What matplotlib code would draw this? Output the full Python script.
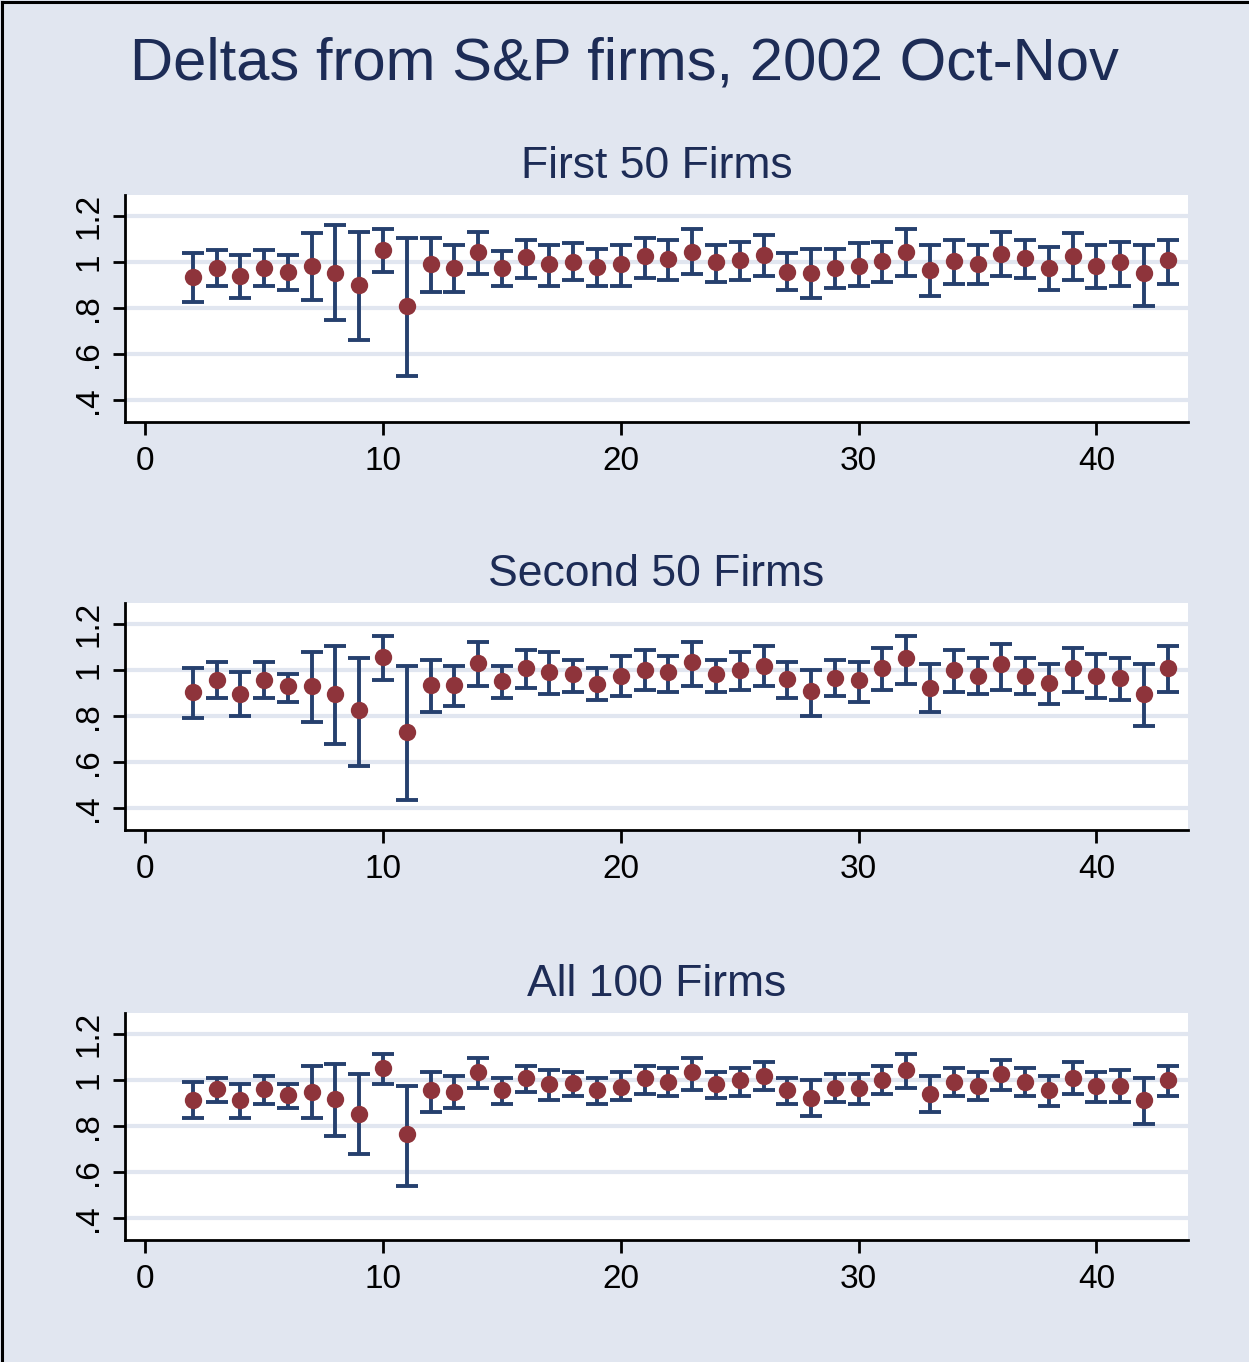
import matplotlib
matplotlib.use("Agg")
from matplotlib import pyplot as plt
from matplotlib.lines import Line2D

days = list(range(2, 44))

# First 50 firms
first_est = [0.933, 0.974, 0.939, 0.974, 0.956, 0.983, 0.952, 0.898, 1.052, 0.808,
             0.991, 0.974, 1.044, 0.974, 1.020, 0.991, 1.000, 0.978, 0.991, 1.026,
             1.012, 1.044, 1.000, 1.009, 1.029, 0.956, 0.949, 0.974, 0.983, 1.004,
             1.044, 0.964, 1.004, 0.990, 1.033, 1.017, 0.974, 1.026, 0.983, 1.000,
             0.949, 1.009]
first_hi = [1.036, 1.052, 1.028, 1.052, 1.028, 1.124, 1.159, 1.131, 1.141, 1.105,
            1.105, 1.071, 1.131, 1.045, 1.096, 1.071, 1.080, 1.054, 1.071, 1.105,
            1.096, 1.141, 1.071, 1.087, 1.115, 1.036, 1.054, 1.054, 1.080, 1.087,
            1.141, 1.071, 1.096, 1.071, 1.131, 1.096, 1.062, 1.124, 1.071, 1.087,
            1.071, 1.096]
first_lo = [0.825, 0.894, 0.843, 0.894, 0.876, 0.833, 0.745, 0.658, 0.956, 0.503,
            0.869, 0.869, 0.948, 0.894, 0.929, 0.894, 0.920, 0.894, 0.894, 0.929,
            0.920, 0.946, 0.911, 0.920, 0.937, 0.876, 0.843, 0.885, 0.894, 0.911,
            0.937, 0.850, 0.903, 0.903, 0.937, 0.929, 0.876, 0.920, 0.885, 0.894,
            0.808, 0.903]

# Second 50 firms
second_est = [0.904, 0.956, 0.895, 0.956, 0.930, 0.930, 0.895, 0.823, 1.055, 0.729,
              0.935, 0.935, 1.031, 0.949, 1.009, 0.991, 0.981, 0.939, 0.974, 1.000,
              0.991, 1.032, 0.983, 1.000, 1.017, 0.961, 0.908, 0.965, 0.956, 1.009,
              1.052, 0.921, 1.000, 0.974, 1.026, 0.974, 0.943, 1.009, 0.974, 0.965,
              0.895, 1.009]
second_hi = [1.009, 1.035, 0.991, 1.035, 0.983, 1.079, 1.105, 1.052, 1.148, 1.017,
             1.044, 1.017, 1.122, 1.017, 1.087, 1.079, 1.044, 1.009, 1.061, 1.087,
             1.061, 1.122, 1.044, 1.079, 1.105, 1.035, 1.000, 1.044, 1.035, 1.096,
             1.148, 1.026, 1.087, 1.052, 1.113, 1.052, 1.026, 1.096, 1.070, 1.052,
             1.026, 1.105]
second_lo = [0.791, 0.878, 0.800, 0.878, 0.860, 0.773, 0.677, 0.581, 0.956, 0.433,
             0.817, 0.843, 0.930, 0.878, 0.921, 0.895, 0.904, 0.869, 0.887, 0.913,
             0.904, 0.930, 0.904, 0.913, 0.930, 0.878, 0.800, 0.887, 0.860, 0.913,
             0.939, 0.817, 0.904, 0.895, 0.913, 0.895, 0.852, 0.904, 0.878, 0.869,
             0.756, 0.904]

# All 100 firms
all_est = [0.913, 0.961, 0.913, 0.961, 0.935, 0.948, 0.917, 0.852, 1.052, 0.765,
           0.957, 0.948, 1.035, 0.957, 1.009, 0.983, 0.987, 0.957, 0.970, 1.009,
           0.991, 1.035, 0.983, 1.000, 1.017, 0.957, 0.922, 0.965, 0.965, 1.000,
           1.043, 0.939, 0.991, 0.974, 1.026, 0.991, 0.957, 1.009, 0.974, 0.974,
           0.913, 1.000]
all_hi = [0.991, 1.009, 0.983, 1.017, 0.983, 1.061, 1.070, 1.026, 1.113, 0.974,
          1.035, 1.017, 1.096, 1.009, 1.061, 1.043, 1.035, 1.009, 1.035, 1.061,
          1.052, 1.096, 1.035, 1.052, 1.078, 1.009, 1.000, 1.026, 1.026, 1.061,
          1.113, 1.017, 1.052, 1.035, 1.087, 1.052, 1.017, 1.078, 1.035, 1.043,
          1.009, 1.061]
all_lo = [0.835, 0.904, 0.835, 0.896, 0.878, 0.835, 0.757, 0.678, 0.983, 0.539,
          0.861, 0.878, 0.965, 0.896, 0.948, 0.913, 0.930, 0.896, 0.913, 0.939,
          0.930, 0.957, 0.922, 0.930, 0.957, 0.896, 0.843, 0.904, 0.896, 0.939,
          0.965, 0.861, 0.930, 0.913, 0.957, 0.930, 0.887, 0.939, 0.904, 0.904,
          0.809, 0.930]

panel_titles = ["First 50 Firms", "Second 50 Firms", "All 100 Firms"]
y_ticks = [0.4, 0.6, 0.8, 1.0, 1.2]
y_tick_labels = [".4", ".6", ".8", "1", "1.2"]
x_ticks = [0, 10, 20, 30, 40]

BG = "#e1e6f0"
NAVY = "#1d2c56"
BAR = "#26406e"
DOT = "#8e343b"

plt.rcParams['font.family'] = ['Liberation Sans', 'DejaVu Sans']


def draw_panel(ax, title, est, lo, hi):
    ax.set_facecolor("white")
    err = [[e - l for e, l in zip(est, lo)], [h - e for e, h in zip(est, hi)]]
    ax.errorbar(days, est, yerr=err, fmt="none", ecolor=BAR, elinewidth=2.8,
                capsize=8, capthick=2.8, zorder=3)
    ax.plot(days, est, "o", color=DOT, markersize=12.5, markeredgewidth=0, zorder=4)

    ax.set_xlim(-0.85, 43.85)
    ax.set_ylim(0.303, 1.29)
    ax.set_yticks(y_ticks)
    ax.set_yticklabels(y_tick_labels, rotation=90, va="center")
    ax.set_xticks(x_ticks)
    ax.grid(axis="y", color=BG, linewidth=3)
    ax.set_axisbelow(True)

    for side in ("top", "right"):
        ax.spines[side].set_visible(False)
    for side in ("left", "bottom"):
        ax.spines[side].set_linewidth(2)
        ax.spines[side].set_color("black")
    ax.tick_params(length=9, width=2, labelsize=24, pad=6, color="black")
    ax.tick_params(axis="x", pad=8)
    ax.set_title(title, fontsize=32, color=NAVY, pad=12)


def main():
    fig = plt.figure(figsize=(12.49, 13.62), dpi=100, facecolor=BG)

    boxes = [(195, 422), (603, 830), (1013, 1240)]
    series = [(first_est, first_lo, first_hi),
              (second_est, second_lo, second_hi),
              (all_est, all_lo, all_hi)]
    H = 1362.0
    W = 1249.0
    for (top, bottom), title, (est, lo, hi) in zip(boxes, panel_titles, series):
        ax = fig.add_axes([125 / W, 1 - bottom / H, (1188 - 125) / W, (bottom - top) / H])
        draw_panel(ax, title, est, lo, hi)

    fig.text(0.5, 1 - 64 / H, "Deltas from S&P firms, 2002 Oct-Nov",
             ha="center", va="center", fontsize=43, color=NAVY)

    # frame on left and top edges
    fig.add_artist(Line2D([1.5 / W, 1.5 / W], [0, 1 - 1.5 / H], color="black", lw=2.2))
    fig.add_artist(Line2D([1.5 / W, 1], [1 - 1.5 / H, 1 - 1.5 / H], color="black", lw=2.2))

    fig.savefig("out.png", dpi=100, facecolor=BG)


if __name__ == "__main__":
    main()
